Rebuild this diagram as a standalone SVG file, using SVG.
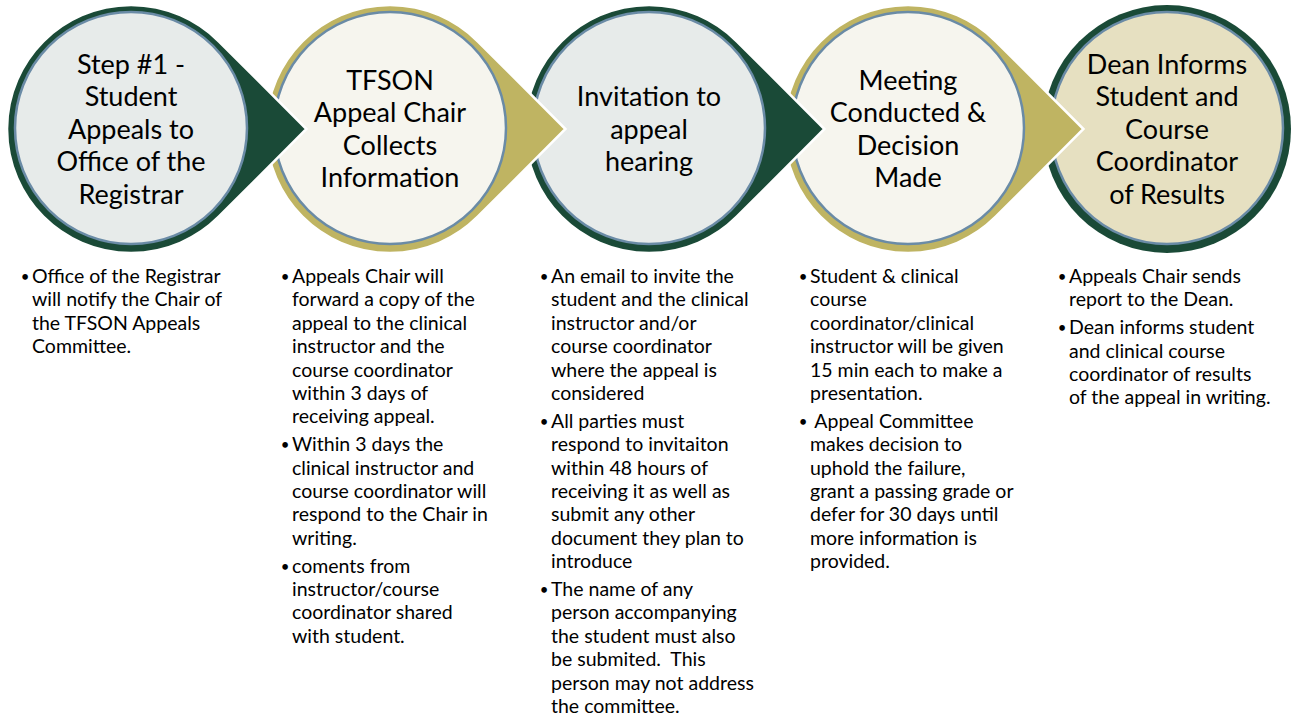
<svg xmlns="http://www.w3.org/2000/svg" width="1293" height="717" viewBox="0 0 1293 717">
<style>
.dark{fill:#1A4A37;stroke:#FFFFFF;stroke-width:2.5}
.gold{fill:#BFB462;stroke:#FFFFFF;stroke-width:2.5}
.inner{stroke:#6A8BA6;stroke-width:2.5}
.gray{fill:#E7EBEA}
.cream{fill:#F6F5EE}
.beige{fill:#E6E0C1}
.title{font-family:Lato,"Liberation Sans",sans-serif;font-size:27px;fill:#000;text-anchor:middle}
.body{font-family:Lato,"Liberation Sans",sans-serif;font-size:19.5px;fill:#000;white-space:pre}
.bul{font-family:Lato,"Liberation Sans",sans-serif;font-size:15px;fill:#000;text-anchor:middle}
</style>
<rect width="1293" height="717" fill="#FFFFFF"/>
<g id="connectors"></g>
<g id="node5">
<circle cx="1167" cy="129" r="124" fill="#1A4A37"/>
<circle class="inner beige" cx="1167" cy="128" r="116"/>
<text class="title"><tspan x="1167" y="73.5">Dean Informs</tspan><tspan x="1167" y="106">Student and</tspan><tspan x="1167" y="138.5">Course</tspan><tspan x="1167" y="171">Coordinator</tspan><tspan x="1167" y="203.5">of Results</tspan></text>
</g>
<g id="node4">
<path class="gold" d="M1083.4,129 L995.7,41.3 A124,124 0 1 0 995.7,216.7 Z"/>
<circle class="inner cream" cx="908" cy="128" r="116"/>
<text class="title"><tspan x="908" y="89.75">Meeting</tspan><tspan x="908" y="122.25">Conducted &amp;</tspan><tspan x="908" y="154.75">Decision</tspan><tspan x="908" y="187.25">Made</tspan></text>
</g>
<g id="node3">
<path class="dark" d="M824.4,129 L736.7,41.3 A124,124 0 1 0 736.7,216.7 Z"/>
<circle class="inner gray" cx="649" cy="128" r="116"/>
<text class="title"><tspan x="649" y="106">Invitation to</tspan><tspan x="649" y="138.5">appeal</tspan><tspan x="649" y="171">hearing</tspan></text>
</g>
<g id="node2">
<path class="gold" d="M565.4,129 L477.7,41.3 A124,124 0 1 0 477.7,216.7 Z"/>
<circle class="inner cream" cx="390" cy="128" r="116"/>
<text class="title"><tspan x="390" y="89.75">TFSON</tspan><tspan x="390" y="122.25">Appeal Chair</tspan><tspan x="390" y="154.75">Collects</tspan><tspan x="390" y="187.25">Information</tspan></text>
</g>
<g id="node1">
<path class="dark" d="M306.4,129 L218.7,41.3 A124,124 0 1 0 218.7,216.7 Z"/>
<circle class="inner gray" cx="131" cy="128" r="116"/>
<text class="title"><tspan x="131" y="73.5">Step #1 -</tspan><tspan x="131" y="106">Student</tspan><tspan x="131" y="138.5">Appeals to</tspan><tspan x="131" y="171">Office of the</tspan><tspan x="131" y="203.5">Registrar</tspan></text>
</g>
<g id="notes1">
<text class="bul" x="25" y="282">•</text>
<text class="body"><tspan x="32" y="283">Office of the Registrar</tspan><tspan x="32" y="306.4">will notify the Chair of</tspan><tspan x="32" y="329.8">the TFSON Appeals</tspan><tspan x="32" y="353.2">Committee.</tspan></text>
</g>
<g id="notes2">
<text class="bul" x="285" y="282">•</text>
<text class="body"><tspan x="292" y="283">Appeals Chair will</tspan><tspan x="292" y="306.4">forward a copy of the</tspan><tspan x="292" y="329.8">appeal to the clinical</tspan><tspan x="292" y="353.2">instructor and the</tspan><tspan x="292" y="376.6">course coordinator</tspan><tspan x="292" y="400">within 3 days of</tspan><tspan x="292" y="423.4">receiving appeal.</tspan></text>
<text class="bul" x="285" y="450.2">•</text>
<text class="body"><tspan x="292" y="451.2">Within 3 days the</tspan><tspan x="292" y="474.6">clinical instructor and</tspan><tspan x="292" y="498">course coordinator will</tspan><tspan x="292" y="521.4">respond to the Chair in</tspan><tspan x="292" y="544.8">writing.</tspan></text>
<text class="bul" x="285" y="571.6">•</text>
<text class="body"><tspan x="292" y="572.6">coments from</tspan><tspan x="292" y="596">instructor/course</tspan><tspan x="292" y="619.4">coordinator shared</tspan><tspan x="292" y="642.8">with student.</tspan></text>
</g>
<g id="notes3">
<text class="bul" x="544" y="282">•</text>
<text class="body"><tspan x="551" y="283">An email to invite the</tspan><tspan x="551" y="306.4">student and the clinical</tspan><tspan x="551" y="329.8">instructor and/or</tspan><tspan x="551" y="353.2">course coordinator</tspan><tspan x="551" y="376.6">where the appeal is</tspan><tspan x="551" y="400">considered</tspan></text>
<text class="bul" x="544" y="426.8">•</text>
<text class="body"><tspan x="551" y="427.8">All parties must</tspan><tspan x="551" y="451.2">respond to invitaiton</tspan><tspan x="551" y="474.6">within 48 hours of</tspan><tspan x="551" y="498">receiving it as well as</tspan><tspan x="551" y="521.4">submit any other</tspan><tspan x="551" y="544.8">document they plan to</tspan><tspan x="551" y="568.2">introduce</tspan></text>
<text class="bul" x="544" y="595">•</text>
<text class="body"><tspan x="551" y="596">The name of any</tspan><tspan x="551" y="619.4">person accompanying</tspan><tspan x="551" y="642.8">the student must also</tspan><tspan x="551" y="666.2">be submited.  This</tspan><tspan x="551" y="689.6">person may not address</tspan><tspan x="551" y="713">the committee.</tspan></text>
</g>
<g id="notes4">
<text class="bul" x="803" y="282">•</text>
<text class="body"><tspan x="810" y="283">Student &amp; clinical</tspan><tspan x="810" y="306.4">course</tspan><tspan x="810" y="329.8">coordinator/clinical</tspan><tspan x="810" y="353.2">instructor will be given</tspan><tspan x="810" y="376.6">15 min each to make a</tspan><tspan x="810" y="400">presentation.</tspan></text>
<text class="bul" x="803" y="426.8">•</text>
<text class="body"><tspan x="810" y="427.8"> Appeal Committee</tspan><tspan x="810" y="451.2">makes decision to</tspan><tspan x="810" y="474.6">uphold the failure,</tspan><tspan x="810" y="498">grant a passing grade or</tspan><tspan x="810" y="521.4">defer for 30 days until</tspan><tspan x="810" y="544.8">more information is</tspan><tspan x="810" y="568.2">provided.</tspan></text>
</g>
<g id="notes5">
<text class="bul" x="1062" y="282">•</text>
<text class="body"><tspan x="1069" y="283">Appeals Chair sends</tspan><tspan x="1069" y="306.4">report to the Dean.</tspan></text>
<text class="bul" x="1062" y="333.2">•</text>
<text class="body"><tspan x="1069" y="334.2">Dean informs student</tspan><tspan x="1069" y="357.6">and clinical course</tspan><tspan x="1069" y="381">coordinator of results</tspan><tspan x="1069" y="404.4">of the appeal in writing.</tspan></text>
</g>
</svg>
